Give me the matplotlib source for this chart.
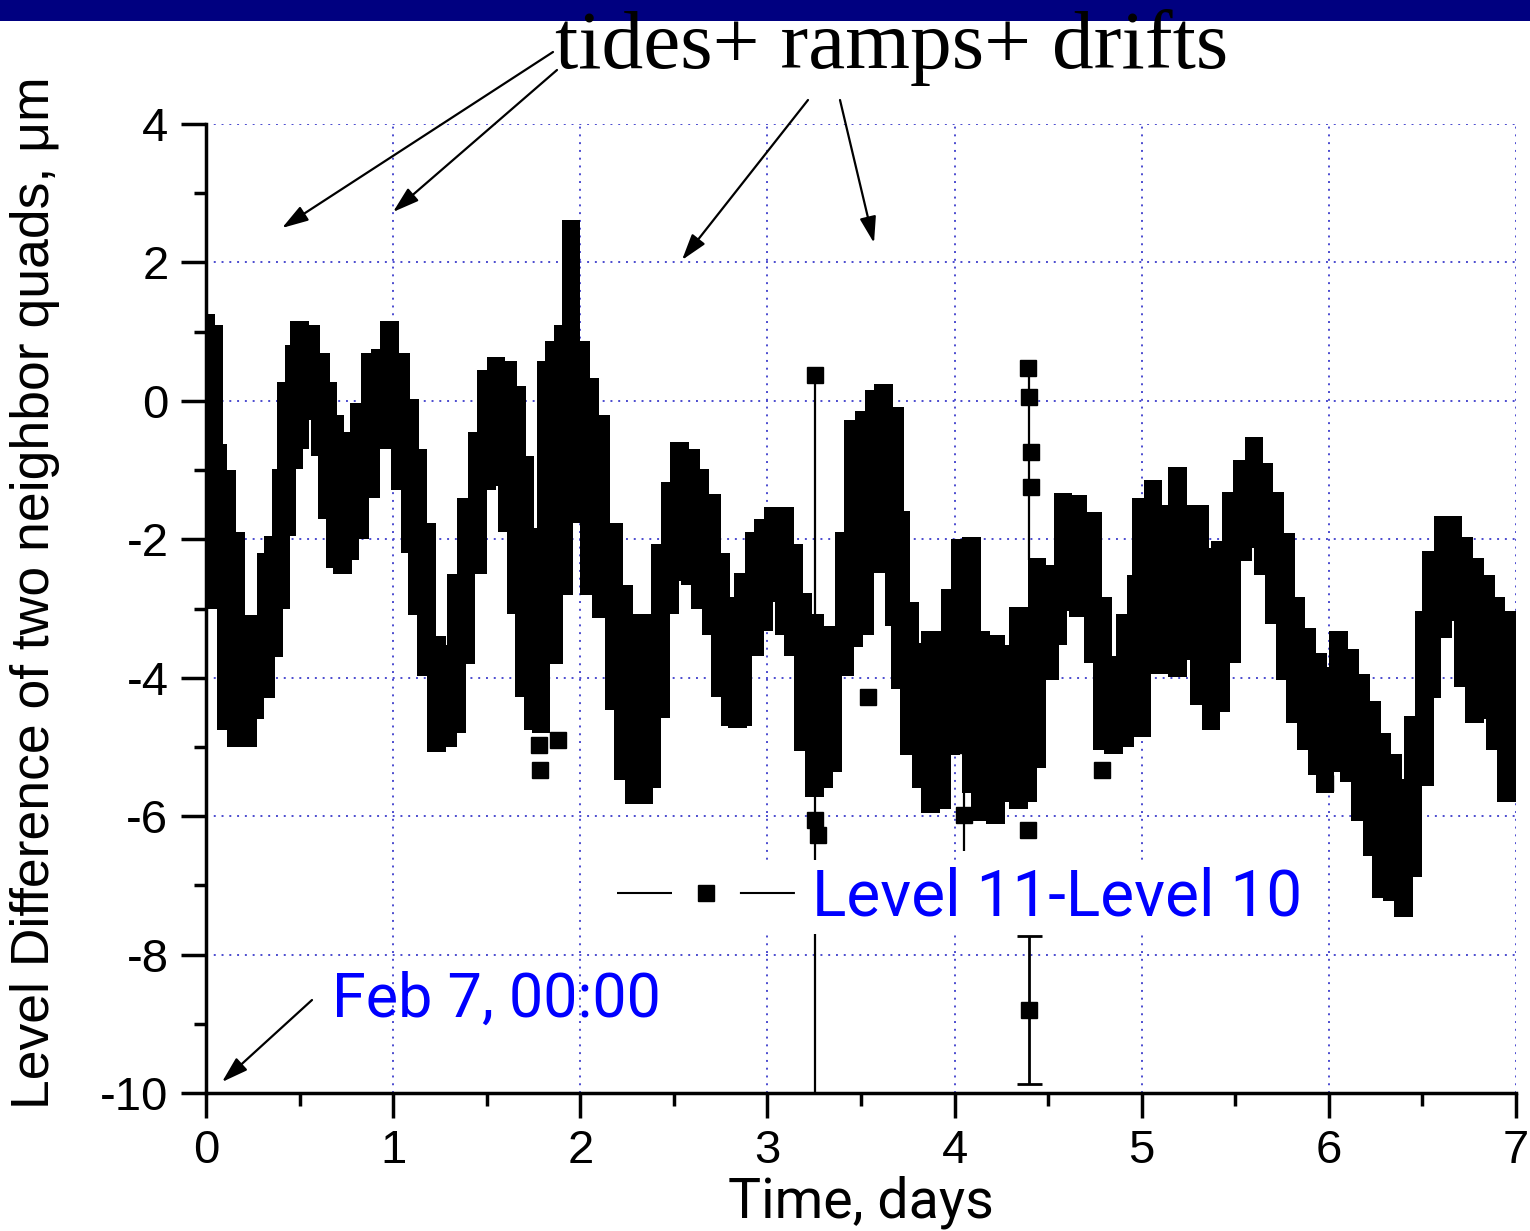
import matplotlib
matplotlib.use("Agg")
import matplotlib.pyplot as plt
from matplotlib.lines import Line2D
from matplotlib.patches import Rectangle

plt.rcParams["font.family"] = ["Liberation Sans", "DejaVu Sans"]
plt.rcParams["axes.unicode_minus"] = False

# upper / lower edge of the Level 11 - Level 10 record, days vs micrometres
t_days = [0.00, 0.04, 0.06, 0.11, 0.16, 0.22, 0.26, 0.32, 0.36, 0.40,
          0.43, 0.47, 0.50, 0.56, 0.61, 0.65, 0.69, 0.73, 0.77, 0.82,
          0.88, 0.93, 0.98, 1.04, 1.09, 1.13, 1.18, 1.23, 1.29, 1.34,
          1.39, 1.45, 1.50, 1.55, 1.61, 1.66, 1.70, 1.75, 1.79, 1.82,
          1.86, 1.91, 1.95, 2.00, 2.05, 2.11, 2.18, 2.23, 2.29, 2.34,
          2.38, 2.43, 2.48, 2.53, 2.59, 2.64, 2.70, 2.75, 2.80, 2.84,
          2.87, 2.93, 2.98, 3.03, 3.09, 3.14, 3.19, 3.25, 3.30, 3.35,
          3.41, 3.46, 3.52, 3.57, 3.62, 3.68, 3.71, 3.76, 3.82, 3.87,
          3.93, 3.98, 4.03, 4.09, 4.14, 4.22, 4.28, 4.34, 4.39, 4.44,
          4.51, 4.55, 4.58, 4.66, 4.74, 4.79, 4.85, 4.91, 4.97, 5.00,
          5.06, 5.12, 5.19, 5.25, 5.31, 5.37, 5.42, 5.48, 5.54, 5.60,
          5.65, 5.71, 5.77, 5.82, 5.88, 5.94, 5.98, 6.05, 6.11, 6.17,
          6.23, 6.28, 6.34, 6.40, 6.45, 6.51, 6.55, 6.61, 6.66, 6.72,
          6.78, 6.84, 6.89, 6.95, 7.00]
upper = [1.25, 1.10, -0.63, -1.00, -1.90, -3.26, -3.10, -2.20, -1.95, -0.99,
         0.27, 0.80, 1.15, 1.10, 0.69, 0.27, -0.20, -1.17, -0.45, -0.03,
         0.69, 0.75, 1.15, 0.69, 0.03, -0.69, -1.77, -3.40, -3.53, -2.50,
         -1.40, -0.45, 0.45, 0.63, 0.57, 0.21, -0.80, -1.89, -1.83, 0.57,
         0.87, 1.10, 2.62, 0.87, 0.33, -0.20, -1.77, -2.66, -3.08, -4.28,
         -3.08, -2.07, -1.17, -0.60, -0.69, -0.99, -1.35, -2.20, -2.84, -3.08,
         -2.48, -1.89, -1.70, -1.53, -1.53, -2.07, -2.78, -3.08, -3.68, -3.26,
         -1.89, -0.27, -0.15, 0.15, 0.24, -0.09, -1.59, -2.90, -3.50, -3.32,
         -3.32, -2.72, -2.00, -1.97, -3.33, -3.38, -3.53, -2.98, -2.98, -2.27,
         -2.37, -2.52, -1.33, -1.36, -1.61, -2.83, -3.69, -3.08, -2.52, -1.41,
         -1.15, -1.51, -0.95, -1.51, -1.51, -2.12, -2.02, -1.31, -0.85, -0.52,
         -0.90, -1.31, -1.91, -2.83, -3.28, -3.64, -3.84, -3.33, -3.58, -3.94,
         -4.34, -4.80, -5.10, -5.46, -4.55, -3.03, -2.17, -1.66, -1.66, -1.96,
         -2.27, -2.52, -2.83, -3.03, -3.23]
lower = [-2.50, -2.90, -3.00, -4.76, -5.00, -5.00, -4.60, -4.30, -3.70, -3.00,
         -1.95, -0.99, -0.69, -0.27, -0.80, -1.70, -2.42, -2.50, -2.30, -2.00,
         -1.40, -0.69, -0.69, -1.29, -2.20, -3.10, -3.98, -5.08, -5.00, -4.80,
         -3.80, -2.50, -1.29, -1.23, -1.90, -3.08, -4.28, -4.76, -4.80, -3.08,
         -3.80, -2.80, -1.35, -1.77, -2.80, -3.14, -4.46, -5.48, -5.82, -5.82,
         -5.60, -4.58, -3.08, -2.60, -2.66, -3.00, -3.38, -4.28, -4.70, -4.73,
         -4.70, -3.68, -3.32, -2.90, -3.38, -3.68, -5.06, -5.72, -5.60, -5.36,
         -3.98, -3.56, -3.38, -2.30, -2.48, -3.26, -4.16, -5.12, -5.60, -5.96,
         -5.90, -5.12, -4.88, -5.66, -6.07, -6.12, -5.80, -5.90, -5.80, -5.30,
         -4.04, -3.53, -3.03, -3.13, -3.79, -5.05, -5.10, -5.00, -4.55, -4.85,
         -3.94, -3.94, -3.99, -3.74, -4.40, -4.75, -4.50, -3.79, -2.32, -2.12,
         -2.52, -3.23, -4.04, -4.65, -5.05, -5.40, -5.66, -5.36, -5.50, -6.07,
         -6.57, -7.18, -7.23, -7.45, -6.88, -5.56, -4.29, -3.43, -3.18, -4.14,
         -4.65, -4.60, -5.05, -5.80, -5.80]

# isolated readings sitting away from the band
odd_t = [1.78, 1.785, 1.88, 3.255, 3.255, 3.27, 3.54, 4.05, 4.05,
         4.39, 4.40, 4.41, 4.41, 4.39, 4.79, 5.98]
odd_v = [-4.97, -5.33, -4.90, 0.37, -6.05, -6.27, -4.28, -4.97, -5.98,
         0.48, 0.06, -0.74, -1.24, -6.20, -5.33, -5.52]

# thin connecting lines of the outlier readings
vl_t = [3.255, 4.40, 4.05]
vl_top = [0.37, 0.48, -4.60]
vl_bot = [-10.0, -2.30, -6.50]

# reading with its error bar below the band
eb_t = [4.40]
eb_v = [-8.80]
eb_err = [1.07]

W, H = 1530, 1231
fig = plt.figure(figsize=(W / 100, H / 100), dpi=100)
fig.patch.set_facecolor("white")

def fxy(px, py):
    return (px / W, 1 - py / H)

ax = fig.add_axes([206 / W, 1 - 1093 / H, (1516 - 206) / W, (1093 - 124) / H])

# the band of overlapping squares: one column per reading
heights = [hi - lo for hi, lo in zip(upper, lower)]
ax.bar(t_days, heights, bottom=lower, width=0.1, color="black", lw=0, zorder=3)

ax.vlines(vl_t, vl_bot, vl_top, color="black", lw=1.6, zorder=2)
ax.plot(odd_t, odd_v, "s", color="black", ms=12, zorder=3)
ax.errorbar(eb_t, eb_v, yerr=eb_err, fmt="s", color="black", ms=12,
            elinewidth=2, capsize=9, capthick=2, zorder=3)

ax.set_xlim(0, 7)
ax.set_ylim(-10, 4)
ax.set_xticks(range(0, 8))
ax.set_yticks(range(-10, 5, 2))
ax.set_xticks([i + 0.5 for i in range(7)], minor=True)
ax.set_yticks(range(-9, 4, 2), minor=True)
ax.grid(True, which="major", color="#4b4bcf", linestyle=(0, (1, 3)), lw=1.4, zorder=1)

for side in ["top", "right"]:
    ax.spines[side].set_visible(False)
for side in ["left", "bottom"]:
    ax.spines[side].set_linewidth(2.5)

ax.tick_params(which="major", direction="out", length=18, width=2.5, labelsize=34)
ax.tick_params(axis="y", which="major", pad=9)
ax.tick_params(axis="x", which="major", pad=8)
ax.tick_params(which="minor", direction="out", length=9, width=2.5)

ax.set_ylabel("Level Difference of two neighbor quads, \u03bcm", fontsize=38.5)
ax.yaxis.set_label_coords((60 - 206) / 1310, 0.5165)
ax.set_xlabel("Time, days", fontsize=40, family="Roboto", labelpad=2)

# legend with opaque background
handle = Line2D([], [], color="black", lw=1.5, marker="s", ms=12,
                linestyle=(0, (26.4, 32.6)))
leg = ax.legend([handle], ["Level 11-Level 10"], loc="center left",
                bbox_to_anchor=fxy(611, 897), bbox_transform=fig.transFigure,
                prop={"family": "Roboto", "size": 46},
                labelcolor="blue", handlelength=2.78, handletextpad=0.27,
                borderpad=0.1, borderaxespad=0, frameon=True, fancybox=False)
leg.get_frame().set_facecolor("white")
leg.get_frame().set_edgecolor("none")
leg.get_frame().set_alpha(1)
leg.set_zorder(5)

fig.text(*fxy(332, 1000), "Feb 7, 00:00", color="blue", fontsize=44,
         family="Roboto", va="center", ha="left")

arrowprops = dict(arrowstyle="-|>,head_length=1.6,head_width=0.5", color="black",
                  lw=1.6, shrinkA=0, shrinkB=0)
ax.annotate("", xy=fxy(222, 1082), xytext=fxy(312, 1000),
            xycoords="figure fraction", textcoords="figure fraction",
            arrowprops=arrowprops)

# top banner and headline
fig.add_artist(Rectangle((0, 1 - 21 / H), 1, 21 / H, transform=fig.transFigure,
                         facecolor="#000080", edgecolor="none", zorder=0))
fig.text(*fxy(892, 68), "tides+ ramps+ drifts", fontsize=60,
         family=["Liberation Serif", "DejaVu Serif"], ha="center", va="baseline",
         zorder=2)

for start, end in [((553, 52), (282, 228)), ((557, 70), (393, 212)),
                   ((808, 100), (682, 260)), ((840, 100), (874, 243))]:
    ax.annotate("", xy=fxy(*end), xytext=fxy(*start),
                xycoords="figure fraction", textcoords="figure fraction",
                arrowprops=arrowprops)

fig.savefig("out.png", dpi=100)
